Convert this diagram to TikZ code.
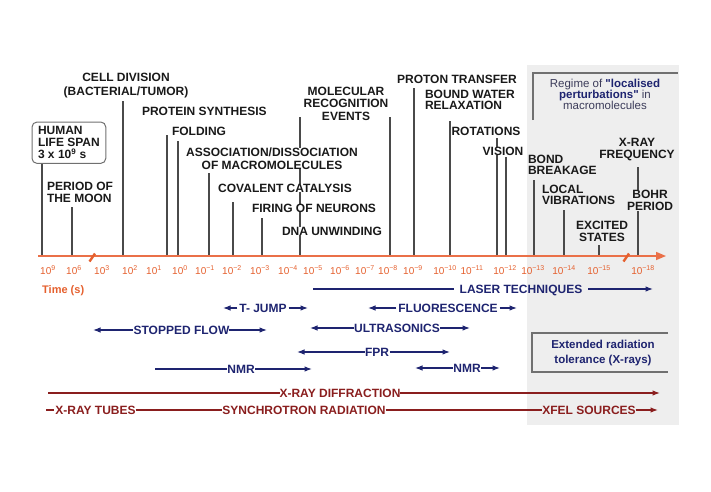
\documentclass[tikz,border=0pt]{standalone}
\usepackage{fontspec}
\setmainfont{Liberation Sans}[Ligatures=TeXOff]
\usetikzlibrary{arrows.meta}
\definecolor{navy}{HTML}{1E2470}
\definecolor{xred}{HTML}{8A1E1E}
\definecolor{axcol}{HTML}{EA7048}
\definecolor{tickcol}{HTML}{E5602E}
\definecolor{vgray}{HTML}{4A4A4A}
\definecolor{bggray}{HTML}{EEEEEE}
\definecolor{boxgray}{HTML}{707070}
\definecolor{regcol}{HTML}{3C3C5A}
\newcommand\lblf[1]{\fontsize{12}{#1}\selectfont\bfseries}
\begin{document}
\begin{tikzpicture}[x=1pt,y=-1pt,
  >={Latex[length=7.5pt,width=5.5pt]},
  lbl/.style={inner sep=0pt, outer sep=0pt, text=black!90, font={\lblf{12}}},
  vline/.style={draw=vgray, line width=1.2pt},
  tech/.style={inner sep=0pt, inner xsep=2pt, outer sep=0pt, text=navy, font={\lblf{12}}, text height=8.6pt, text depth=0pt},
  techline/.style={draw=navy, line width=1.1pt},
  xr/.style={inner sep=0pt, inner xsep=2.5pt, outer sep=0pt, text=xred, font={\lblf{12}}, text height=8.6pt, text depth=0pt},
  xline/.style={draw=xred, line width=1.2pt},
  tick/.style={inner sep=0pt, anchor=base, text=tickcol, font=\fontsize{10}{10}\selectfont},
  frame/.style={draw=boxgray, line width=1.3pt}
]
\path[use as bounding box] (0,0) rectangle (711,491);
% grey regime region
\fill[bggray] (527,65) rectangle (679,425);

% vertical event lines
\foreach \n/\x/\t in {hum/42/164, moon/72/207, cell/123/101, prot/167/135, fold/178/141,
  assoc/209/173, cov/233/202, fire/262/218, molA/300/117, molB/390/117, proton/414/88,
  water/450/121, rot/497/138, vis/506/157, bond/534/180, loc/564/210, exc/599/245, xfreq/638/167}
{\coordinate (top-\n) at (\x,\t); \coordinate (bot-\n) at (\x,256); \draw[vline] (top-\n) -- (bot-\n);}

% event labels
\node[lbl, anchor=north, align=center, font={\lblf{14}}] (cell) at (126,73) {CELL DIVISION\\(BACTERIAL/TUMOR)};
\node[lbl, anchor=north west, align=left, font={\lblf{12}}, draw=boxgray, rounded corners=5pt, line width=1pt, inner xsep=6pt, inner ysep=4.5pt] (human) at (32,122) {HUMAN\\LIFE SPAN\\3 x 10\textsuperscript{9} s};
\node[lbl, anchor=north west, align=left, font={\lblf{12}}] (moon) at (47,182) {PERIOD OF\\THE MOON};
\node[lbl, anchor=base west] (protein) at (142,115) {PROTEIN SYNTHESIS};
\node[lbl, anchor=base west] (folding) at (172,135) {FOLDING};
\node[lbl, anchor=north, align=center, font={\lblf{12.5}}, fill=white] (assocl) at (272,148) {ASSOCIATION/DISSOCIATION\\OF MACROMOLECULES};
\node[lbl, anchor=base, fill=white] (covl) at (285,192) {COVALENT CATALYSIS};
\node[lbl, anchor=base, fill=white] (firel) at (314,212) {FIRING OF NEURONS};
\node[lbl, anchor=base, fill=white] (dnal) at (332,235) {DNA UNWINDING};
\node[lbl, anchor=north, align=center, font={\lblf{12.5}}] (moll) at (346,87) {MOLECULAR\\RECOGNITION\\EVENTS};
\node[lbl, anchor=base] (protonl) at (457,83) {PROTON TRANSFER};
\node[lbl, anchor=north west, align=left, font={\lblf{11}}] (waterl) at (425,90) {BOUND WATER\\RELAXATION};
\node[lbl, anchor=base] (rotl) at (486,135) {ROTATIONS};
\node[lbl, anchor=base, fill=white] (visl) at (503,155) {VISION};
\node[lbl, anchor=north west, align=left, font={\lblf{11}}] (bondl) at (528,155) {BOND\\BREAKAGE};
\node[lbl, anchor=north west, align=left, font={\lblf{11}}] (locl) at (542,185) {LOCAL\\VIBRATIONS};
\node[lbl, anchor=north, align=center, font={\lblf{12}}] (xfreql) at (637,138) {X-RAY\\FREQUENCY};
\node[lbl, anchor=north, align=center, font={\lblf{12}}, fill=bggray] (bohrl) at (650,190) {BOHR\\PERIOD};
\node[lbl, anchor=north, align=center, font={\lblf{12}}] (excl) at (602,221) {EXCITED\\STATES};

% regime box
\draw[frame] (533,120) -- (533,73) -- (678,73);
\node[anchor=north, align=center, inner sep=0pt, font=\fontsize{11.5}{11}\selectfont, text=regcol] (regime) at (605,79)
  {Regime of \textbf{\color{navy}"localised}\\\textbf{\color{navy}perturbations"} in\\macromolecules};

% extended radiation box
\draw[frame] (668,333) -- (532,333) -- (532,372) -- (668,372);
\node[anchor=north, align=center, inner sep=0pt, font=\fontsize{11.5}{15}\selectfont\bfseries, text=navy] (ext) at (603,340)
  {Extended radiation\\tolerance (X-rays)};

% time axis
\coordinate (axL) at (38,256);
\coordinate (axR) at (666,256);
\draw[axcol, line width=1.5pt, -{Triangle[length=10pt,width=8pt]}] (axL) -- (axR);
\draw[tickcol, line width=2.4pt] (89.5,261.5) -- (95,253.5);
\draw[tickcol, line width=2.4pt] (623.5,261.5) -- (629,253.5);
\foreach \x/\e [count=\i] in {48/9, 74/6, 102/3, 130/2, 154/1, 180/0, 205/−1, 232/−2, 260/−3, 288/−4,
  313/−5, 340/−6, 365/−7, 388/−8, 413/−9, 445/−10, 472/−11, 505/−12, 533/−13, 564/−14, 599/−15, 643/−18}
  \node[tick] (tk\i) at (\x,274) {10\textsuperscript{\e}};
\node[anchor=base west, inner sep=0pt, text=tickcol, font=\fontsize{11}{11}\selectfont\bfseries] (time) at (42,293) {Time (s)};

% techniques
\node[tech, inner xsep=6pt] (laser) at (521,289) {LASER TECHNIQUES};
\coordinate (laserL) at (313,289); \coordinate (laserR) at (653,289);
\draw[techline] (laserL) -- (laser.west);
\draw[techline, ->] (laser.east) -- (laserR);

\node[tech] (tjump) at (263,308) {T- JUMP};
\coordinate (tjumpL) at (223,308); \coordinate (tjumpR) at (308,308);
\draw[techline, ->] (tjump.west) -- (tjumpL);
\draw[techline, ->] (tjump.east) -- (tjumpR);

\node[tech] (fluo) at (448,308) {FLUORESCENCE};
\coordinate (fluoL) at (368,308); \coordinate (fluoR) at (517,308);
\draw[techline, ->] (fluo.west) -- (fluoL);
\draw[techline, ->] (fluo.east) -- (fluoR);

\node[tech, inner xsep=0pt] (stop) at (181,330) {\hspace{1pt}STOPPED FLOW\hspace{5pt}};
\coordinate (stopL) at (93,330); \coordinate (stopR) at (267,330);
\draw[techline, ->] (stop.west) -- (stopL);
\draw[techline, ->] (stop.east) -- (stopR);

\node[tech, inner xsep=0.5pt] (ultra) at (397,328) {ULTRASONICS};
\coordinate (ultraL) at (310,328); \coordinate (ultraR) at (470,328);
\draw[techline, ->] (ultra.west) -- (ultraL);
\draw[techline, ->] (ultra.east) -- (ultraR);

\node[tech, inner xsep=0.5pt] (fpr) at (377,352) {FPR};
\coordinate (fprL) at (297,352); \coordinate (fprR) at (450,352);
\draw[techline, ->] (fpr.west) -- (fprL);
\draw[techline, ->] (fpr.east) -- (fprR);

\node[tech, inner xsep=0.5pt] (nmrA) at (241,369) {NMR};
\coordinate (nmrAL) at (155,369); \coordinate (nmrAR) at (312,369);
\draw[techline] (nmrAL) -- (nmrA.west);
\draw[techline, ->] (nmrA.east) -- (nmrAR);

\node[tech, inner xsep=0.5pt] (nmrB) at (467,368) {NMR};
\coordinate (nmrBL) at (415,368); \coordinate (nmrBR) at (500,368);
\draw[techline, ->] (nmrB.west) -- (nmrBL);
\draw[techline, ->] (nmrB.east) -- (nmrBR);

% X-ray sources
\node[xr, inner xsep=0pt] (diff) at (340,393) {X-RAY DIFFRACTION};
\coordinate (diffL) at (48,393); \coordinate (diffR) at (660,393);
\draw[xline] (diffL) -- (diff.west);
\draw[xline, ->] (diff.east) -- (diffR);

\node[xr, inner xsep=0pt] (tubes) at (95,410) {\hspace{1pt}X-RAY TUBES\hspace{5pt}};
\node[xr, inner xsep=0pt] (synch) at (304,410) {SYNCHROTRON RADIATION\hspace{5pt}};
\node[xr, inner xsep=0pt] (xfel) at (589,410) {XFEL SOURCES\hspace{1pt}};
\coordinate (tubesL) at (46,410); \coordinate (xfelR) at (658,410);
\draw[xline] (tubesL) -- (tubes.west);
\draw[xline] (tubes.east) -- (synch.west);
\draw[xline] (synch.east) -- (xfel.west);
\draw[xline, ->] (xfel.east) -- (xfelR);
\end{tikzpicture}
\end{document}
